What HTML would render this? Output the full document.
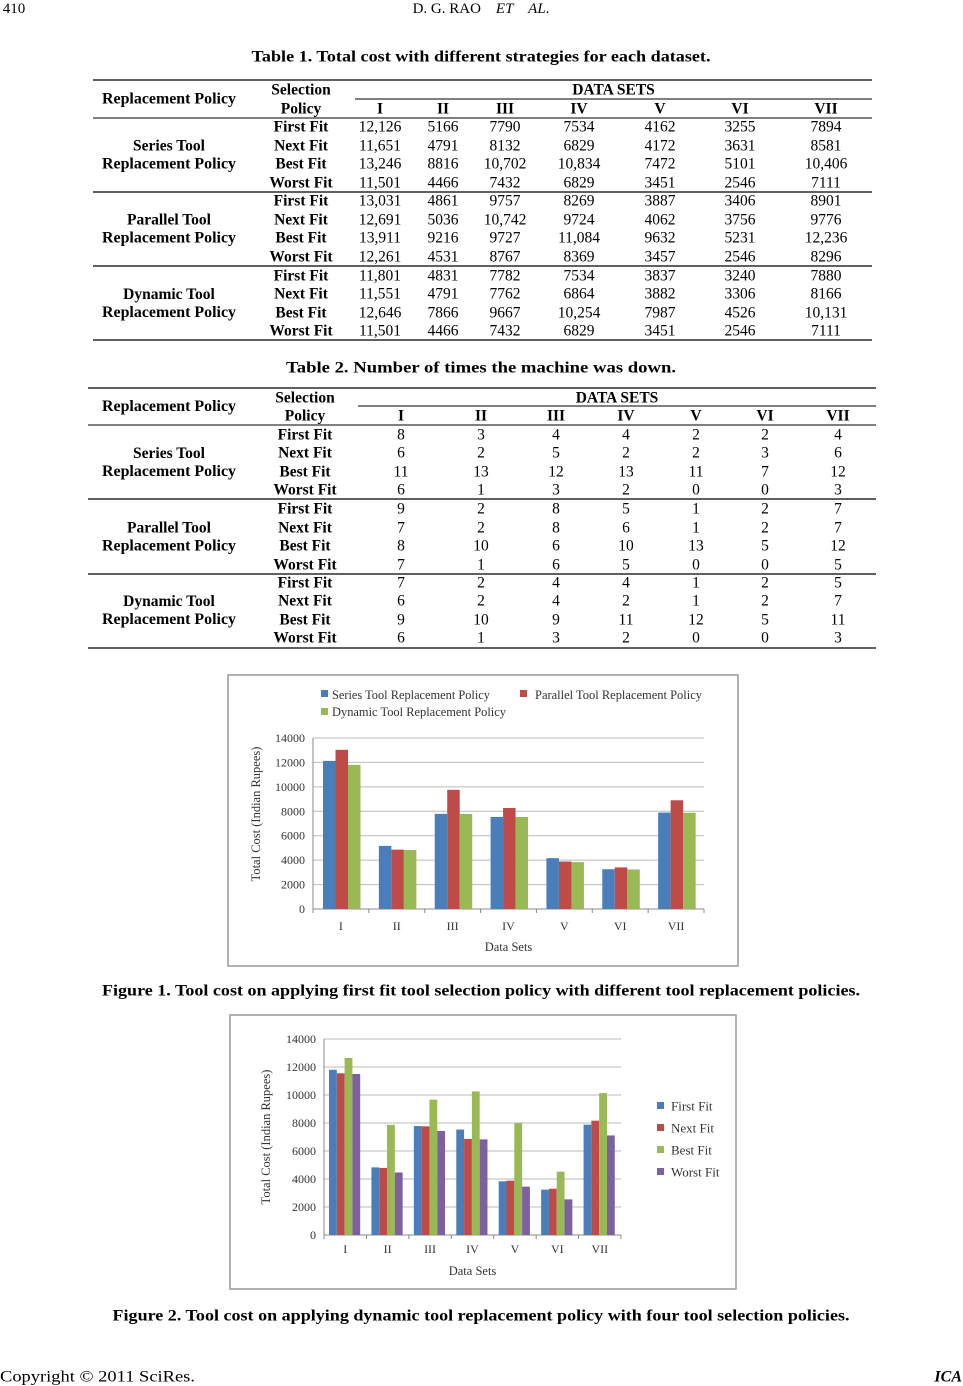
<!DOCTYPE html>
<html><head><meta charset="utf-8"><style>
html,body{margin:0;padding:0;background:#fff;}
svg{display:block;font-family:"Liberation Serif",serif;}
</style></head><body>
<svg id="s" width="963" height="1386" xmlns="http://www.w3.org/2000/svg"></svg>
<script>
const s=document.getElementById('s');let h='';
function T(x,y,t,o){o=o||{};h+=`<text x="${x}" y="${y}" font-size="${o.fs||15.5}" text-anchor="${o.a||'middle'}" dominant-baseline="central" ${o.b?'font-weight="bold"':''} ${o.i?'font-style="italic"':''} fill="${o.c||'#000'}" ${o.tl?`textLength="${o.tl}" lengthAdjust="spacingAndGlyphs"`:''} ${o.tr?`transform="${o.tr}"`:''}>${t}</text>`;}
function L(x1,y1,x2,y2,c,w){h+=`<line x1="${x1}" y1="${y1}" x2="${x2}" y2="${y2}" stroke="${c||'#000'}" stroke-width="${w||1}"/>`;}
function R(x,y,w,hh,c,st){h+=`<rect x="${x}" y="${y}" width="${w}" height="${hh}" fill="${c}" ${st||''}/>`;}
// header/footer
T(14,9,'410',{fs:15});
T(481,9,'D. G. RAO&#160;&#160;&#160; <tspan font-style="italic">ET&#160;&#160;&#160; AL</tspan>.',{fs:15});
T(0,1377,'Copyright © 2011 SciRes.',{a:'start',fs:16,tl:195});
T(962,1377,'ICA',{a:'end',b:1,i:1,fs:16});
// tables
function table(cfg){
 const {x1,x2,top,sub,hd,rows,rules,cols,data,title,ty,sx,tl}=cfg;
 T(481,ty,title,{b:1,fs:16,tl:tl});
 L(x1,top,x2,top,'#000',1.2);L(sx,sub,x2,sub);L(x1,hd+9,x2,hd+9,'#000',1);
 T(cols[0],(top+hd+9)/2,'Replacement Policy',{b:1,tl:134});
 T(cols[1],top+10,'Selection',{b:1});T(cols[1],hd,'Policy',{b:1});
 T((sx+x2)/2,top+10,'DATA SETS',{b:1});
 ['I','II','III','IV','V','VI','VII'].forEach((r,i)=>T(cols[i+2],hd,r,{b:1}));
 const names=[['Series Tool','Replacement Policy'],['Parallel Tool','Replacement Policy'],['Dynamic Tool','Replacement Policy']];
 const sel=['First Fit','Next Fit','Best Fit','Worst Fit'];
 for(let g=0;g<3;g++){
  const ys=rows[g];
  T(cols[0],(ys[1]+ys[2])/2-9,names[g][0],{b:1});T(cols[0],(ys[1]+ys[2])/2+9,names[g][1],{b:1,tl:134});
  for(let r=0;r<4;r++){T(cols[1],ys[r],sel[r],{b:1});
   data[g*4+r].forEach((v,i)=>T(cols[i+2],ys[r],v));}
  L(x1,rules[g],x2,rules[g],'#000',1.2);
 }
}
table({x1:93,x2:872,top:80,sub:99,hd:109,sx:355,ty:57,tl:459,title:'Table 1. Total cost with different strategies for each dataset.',
 rows:[[127,146,164,183],[201,220,238,257],[276,294,313,331]],rules:[192,266,340],
 cols:[169,301,380,443,505,579,660,740,826],
 data:[['12,126',5166,7790,7534,4162,3255,7894],['11,651',4791,8132,6829,4172,3631,8581],['13,246',8816,'10,702','10,834',7472,5101,'10,406'],['11,501',4466,7432,6829,3451,2546,7111],
 ['13,031',4861,9757,8269,3887,3406,8901],['12,691',5036,'10,742',9724,4062,3756,9776],['13,911',9216,9727,'11,084',9632,5231,'12,236'],['12,261',4531,8767,8369,3457,2546,8296],
 ['11,801',4831,7782,7534,3837,3240,7880],['11,551',4791,7762,6864,3882,3306,8166],['12,646',7866,9667,'10,254',7987,4526,'10,131'],['11,501',4466,7432,6829,3451,2546,7111]]});
table({x1:88,x2:876,top:388,sub:406,hd:416,sx:358,ty:368,tl:390,title:'Table 2. Number of times the machine was down.',
 rows:[[435,453,472,490],[509,528,546,565],[583,601,620,638]],rules:[499,574,648],
 cols:[169,305,401,481,556,626,696,765,838],
 data:[[8,3,4,4,2,2,4],[6,2,5,2,2,3,6],[11,13,12,13,11,7,12],[6,1,3,2,0,0,3],
 [9,2,8,5,1,2,7],[7,2,8,6,1,2,7],[8,10,6,10,13,5,12],[7,1,6,5,0,0,5],
 [7,2,4,4,1,2,5],[6,2,4,2,1,2,7],[9,10,9,11,12,5,11],[6,1,3,2,0,0,3]]});
// charts
const C=['#4a7ebb','#be4b48','#98b954','#7d60a0'];
function chart(c){
 R(c.fx,c.fy,c.fw,c.fh,'#fff','stroke="#999" stroke-width="1.5"');
 for(let k=0;k<=7;k++){const y=c.y0+(c.yt-c.y0)*k/7;L(c.ax,y,c.ax2,y,'#bbb',1);T(c.ax-8,y,String(k*2000),{a:'end',fs:12,c:'#333'});}
 L(c.ax,c.yt,c.ax,c.y0,'#888',1);L(c.ax,c.y0,c.ax2,c.y0,'#888',1);
 const cw=(c.ax2-c.ax)/7;
 for(let i=0;i<7;i++){L(c.ax+cw*i,c.y0,c.ax+cw*i,c.y0+4,'#888');
  T(c.ax+cw*(i+.5),c.xl,['I','II','III','IV','V','VI','VII'][i],{fs:12,c:'#333'});
  c.d.forEach((ser,j)=>{const v=ser[i];const y=c.y0-(c.y0-c.yt)*v/14000;R(c.ax+cw*i+c.off+j*c.bw,y,c.bw,c.y0-y,C[j]);});}
 L(c.ax2,c.y0,c.ax2,c.y0+4,'#888');
 T((c.ax+c.ax2)/2,c.dl,'Data Sets',{fs:12.5,c:'#333'});
 T(c.ylx,c.yly,'Total Cost (Indian Rupees)',{fs:12.5,c:'#333',tr:`rotate(-90 ${c.ylx} ${c.yly})`});
}
const FF=[12126,5166,7790,7534,4162,3255,7894];
chart({fx:228,fy:675,fw:510,fh:291,ax:313,ax2:704,yt:738,y0:909,off:10,bw:12.5,xl:926,dl:947,ylx:256,yly:814,
 d:[FF,[13031,4861,9757,8269,3887,3406,8901],[11801,4831,7782,7534,3837,3240,7880]]});
R(321,690,7,7,C[0]);T(332,695,'Series Tool Replacement Policy',{a:'start',fs:12.5,c:'#333',tl:158});
R(520,690,7,7,C[1]);T(535,695,'Parallel Tool Replacement Policy',{a:'start',fs:12.5,c:'#333',tl:167});
R(321,708,7,7,C[2]);T(332,712,'Dynamic Tool Replacement Policy',{a:'start',fs:12.5,c:'#333',tl:174});
T(481,991,'Figure 1. Tool cost on applying first fit tool selection policy with different tool replacement policies.',{b:1,fs:16,tl:758});
const D1=[11801,4831,7782,7534,3837,3240,7880];
chart({fx:230,fy:1015,fw:506,fh:274,ax:324,ax2:621,yt:1039,y0:1235,off:5,bw:7.8,xl:1249,dl:1271,ylx:266,yly:1137,
 d:[D1,[11551,4791,7762,6864,3882,3306,8166],[12646,7866,9667,10254,7987,4526,10131],[11501,4466,7432,6829,3451,2546,7111]]});
['First Fit','Next Fit','Best Fit','Worst Fit'].forEach((t,i)=>{const y=1106+i*22;R(657,y-4,7,7,C[i]);T(671,y,t,{a:'start',fs:13,c:'#333'});});
T(481,1316,'Figure 2. Tool cost on applying dynamic tool replacement policy with four tool selection policies.',{b:1,fs:16,tl:737});
s.innerHTML=h;
</script>
</body></html>
